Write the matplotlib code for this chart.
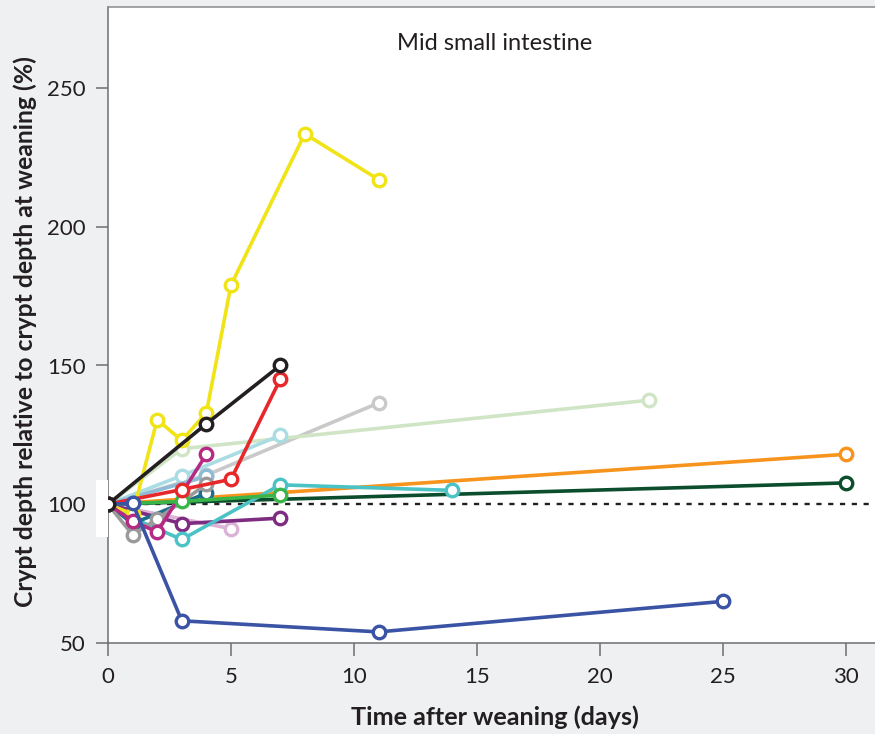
import matplotlib
matplotlib.use("Agg")
import matplotlib.pyplot as plt
from matplotlib.patches import Rectangle

plt.rcParams['font.family'] = ['Lato', 'DejaVu Sans']

# ---- data (days after weaning, crypt depth % of weaning) ----
silver_x = [0, 4, 11]
silver_y = [100, 110.5, 136.5]
palegreen_x = [0, 3, 22]
palegreen_y = [100, 120, 137.5]
lightcyan_x = [0, 3, 7]
lightcyan_y = [100, 110.3, 124.8]
steelblue_x = [0, 4]
steelblue_y = [100, 110]
pink_x = [0, 5]
pink_y = [100, 91.2]
purple_x = [0, 3, 7]
purple_y = [100, 93, 95]
orange_x = [0, 30]
orange_y = [100, 118]
darkgreen_x = [0, 30]
darkgreen_y = [100, 107.7]
turquoise_x = [0, 1, 3, 7, 14]
turquoise_y = [100, 95, 87.3, 107, 105]
darkteal_x = [0, 1, 4]
darkteal_y = [100, 93, 104]
gray_x = [0, 1, 2, 4]
gray_y = [100, 89, 94.7, 107.2]
yellow_x = [0, 1, 2, 3, 4, 5, 8, 11]
yellow_y = [100, 96.5, 130.5, 123, 133, 179, 233.5, 217]
magenta_x = [0, 1, 2, 4]
magenta_y = [100, 94, 90, 118]
green_x = [0, 3, 7]
green_y = [100, 101, 103.3]
red_x = [0, 3, 5, 7]
red_y = [100, 105.3, 109, 145]
navy_x = [0, 1, 3, 11, 25]
navy_y = [100, 100.3, 58, 54, 65]
black_x = [0, 4, 7]
black_y = [100, 129, 150]

series = [
    (silver_x, silver_y, '#c9c9c9'),
    (palegreen_x, palegreen_y, '#cfe5c6'),
    (lightcyan_x, lightcyan_y, '#a9dce3'),
    (steelblue_x, steelblue_y, '#8fbad6'),
    (pink_x, pink_y, '#dcb3d6'),
    (purple_x, purple_y, '#7d2c82'),
    (orange_x, orange_y, '#f7941d'),
    (darkgreen_x, darkgreen_y, '#0b4d2c'),
    (turquoise_x, turquoise_y, '#4bc2c5'),
    (darkteal_x, darkteal_y, '#1b6e8c'),
    (gray_x, gray_y, '#9a9a9a'),
    (yellow_x, yellow_y, '#f0e417'),
    (magenta_x, magenta_y, '#b72a83'),
    (green_x, green_y, '#3ab54a'),
    (red_x, red_y, '#e8272a'),
    (navy_x, navy_y, '#3a53a4'),
    (black_x, black_y, '#231f20'),
]

xticks = [0, 5, 10, 15, 20, 25, 30]
yticks = [50, 100, 150, 200, 250]

bg = '#eff0f2'
spine_c = '#6d6e71'
text_c = '#231f20'

fig = plt.figure(figsize=(8.75, 7.34), dpi=100, facecolor=bg)
ax = fig.add_axes([108/875, 91/734, 767/875, 636/734])
ax.set_facecolor('white')

ax.axhline(100, color='#231f20', lw=1.7, ls=(0, (2.2, 2.8)), zorder=1)

for i, (xs, ys, c) in enumerate(series):
    ax.plot(xs, ys, color=c, lw=2.6, marker='o', ms=9, mfc='white',
            mec=c, mew=2.4, zorder=2 + i, solid_capstyle='round')

ax.set_xlim(0, 767/24.6)
ax.set_ylim(50, 50 + 636/2.775)
ax.set_xticks(xticks)
ax.set_yticks(yticks)

ax.spines['right'].set_visible(False)
for s in ['left', 'bottom', 'top']:
    ax.spines[s].set_color(spine_c)
    ax.spines[s].set_linewidth(1.1)
ax.spines['top'].set_color('#8a8a8a')

ax.tick_params(axis='both', length=9, width=1.1, color=spine_c,
               labelsize=16, labelcolor=text_c, direction='out')
ax.tick_params(axis='y', pad=7)
ax.tick_params(axis='x', pad=8)

# small white patch behind 100 label in reference
fig.patches.append(Rectangle((96/875, (734-537)/734), 12/875, 57/734,
                             transform=fig.transFigure, facecolor='white',
                             edgecolor='none', zorder=0))

fig.text(495/875, 1 - 43/734, 'Mid small intestine', ha='center', va='center',
         fontsize=17, color=text_c)
fig.text(495/875, 1 - 717/734, 'Time after weaning (days)', ha='center',
         va='center', fontsize=18.2, fontweight='bold', color=text_c)
fig.text(25/875, 1 - 332/734,
         'Crypt depth relative to crypt depth at weaning (%)', ha='center',
         va='center', rotation=90, fontsize=17.8, fontweight='bold', color=text_c)

fig.savefig('out.png', dpi=100, facecolor=bg)
